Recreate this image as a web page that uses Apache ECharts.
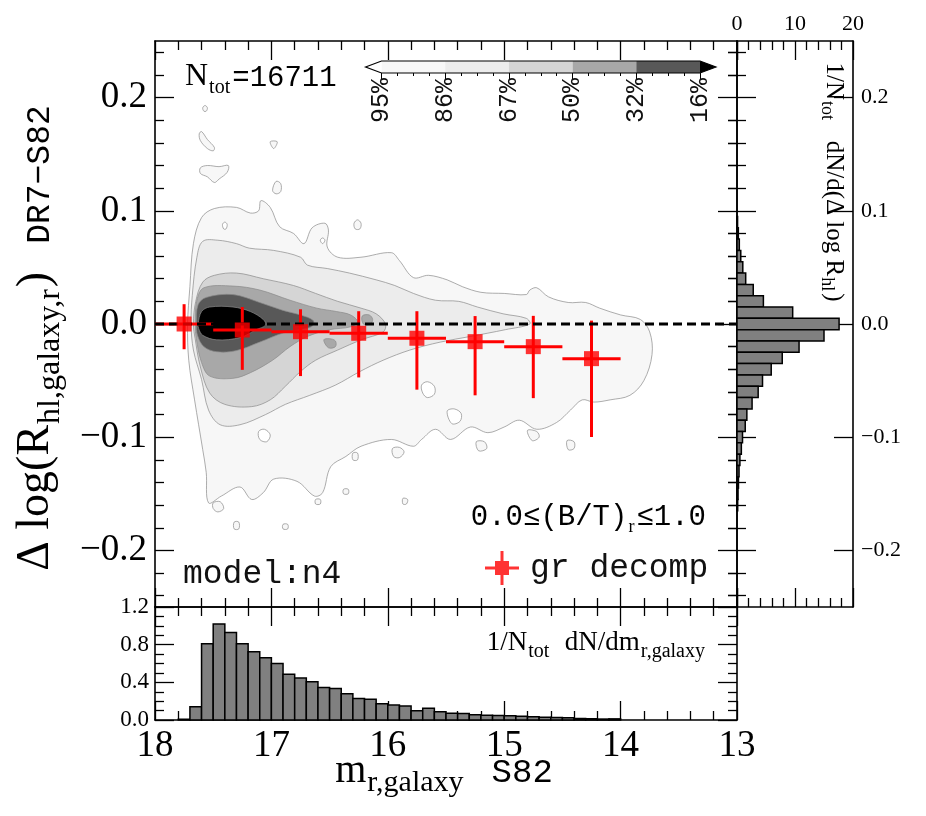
<!DOCTYPE html>
<html>
<head>
<meta charset="utf-8">
<script src="https://cdn.jsdelivr.net/npm/echarts@6/dist/echarts.min.js"></script>
<style>
html, body { margin: 0; padding: 0; background: #fff; }
#chart { width: 926px; height: 816px; }
</style>
</head>
<body>
<div id="chart"></div>
<script>
// ---- values ----
// red points: median of the difference in bins of magnitude
const magBinCenters = [17.75, 17.25, 16.75, 16.25, 15.75, 15.25, 14.75, 14.25]
const medianDelta = [0.000, -0.0053, -0.0068, -0.0082, -0.0126, -0.0156, -0.0200, -0.0306]
const deltaUpper = [0.0175, 0.0150, 0.0130, 0.0113, 0.0113, 0.0070, 0.0072, 0.0030]
const deltaLower = [-0.0223, -0.0405, -0.0460, -0.0472, -0.0580, -0.0630, -0.0655, -0.0998]
const magHalfWidth = 0.25

// bottom histogram 1/N dN/dm
const magBinWidth = 0.1
const magHistCenters = [17.75, 17.65, 17.55, 17.45, 17.35, 17.25, 17.15, 17.05, 16.95, 16.85,
  16.75, 16.65, 16.55, 16.45, 16.35, 16.25, 16.15, 16.05, 15.95, 15.85,
  15.75, 15.65, 15.55, 15.45, 15.35, 15.25, 15.15, 15.05, 14.95, 14.85,
  14.75, 14.65, 14.55, 14.45, 14.35, 14.25, 14.15, 14.05]
const magHistValues = [0.008, 0.14, 0.81, 1.02, 0.93, 0.81, 0.725, 0.66, 0.60, 0.485,
  0.445, 0.405, 0.345, 0.335, 0.28, 0.228, 0.22, 0.172, 0.158, 0.148,
  0.097, 0.124, 0.087, 0.073, 0.07, 0.057, 0.05, 0.047, 0.044, 0.04,
  0.034, 0.03, 0.026, 0.023, 0.017, 0.013, 0.01, 0.012]

// right histogram 1/N dN/d(dlogR)
const deltaBinWidth = 0.01
const deltaHistCenters = [0.09, 0.08, 0.07, 0.06, 0.05, 0.04, 0.03, 0.02, 0.01, 0.00,
  -0.01, -0.02, -0.03, -0.04, -0.05, -0.06, -0.07, -0.08, -0.09, -0.10,
  -0.11, -0.12, -0.13, -0.14, -0.15, -0.16]
const deltaHistValues = [0.1, 0.23, 0.4, 0.65, 1.0, 1.5, 2.8, 4.55, 9.6, 17.6,
  15.0, 10.7, 7.8, 5.9, 4.4, 3.65, 2.6, 1.7, 1.42, 0.95,
  0.75, 0.5, 0.35, 0.25, 0.18, 0.12]

// tick values
const deltaMajor = [-0.2, -0.1, 0.0, 0.1, 0.2]
const deltaMinor = [-0.24, -0.22, -0.18, -0.16, -0.14, -0.12, -0.08, -0.06, -0.04, -0.02,
  0.02, 0.04, 0.06, 0.08, 0.12, 0.14, 0.16, 0.18, 0.22, 0.24]
const cbarLabels = ['95%', '86%', '67%', '50%', '32%', '16%']
const levelColors = ['#f7f7f7', '#ececec', '#d5d5d5', '#a8a8a8', '#585858', '#000000']

// density contours [m_r, dlogR]
const contour95 = [[17.72, 0.000], [17.70, 0.033], [17.67, 0.071], [17.60, 0.094], [17.49, 0.102], [17.30, 0.103],
  [17.18, 0.098], [17.11, 0.100], [17.09, 0.109], [17.01, 0.103], [16.93, 0.086], [16.81, 0.080], [16.72, 0.071],
  [16.65, 0.085], [16.54, 0.089], [16.51, 0.083], [16.52, 0.068], [16.43, 0.059], [16.23, 0.059], [15.97, 0.063],
  [15.90, 0.056], [15.78, 0.041], [15.65, 0.043], [15.49, 0.039], [15.36, 0.033], [15.20, 0.028], [15.00, 0.027],
  [14.81, 0.026], [14.78, 0.030], [14.72, 0.032], [14.62, 0.024], [14.45, 0.019], [14.30, 0.019], [14.18, 0.014],
  [14.00, 0.008], [13.83, 0.004], [13.75, -0.007], [13.73, -0.027], [13.80, -0.050], [13.92, -0.063], [14.09, -0.067],
  [14.23, -0.069], [14.33, -0.067], [14.43, -0.076], [14.55, -0.087], [14.72, -0.093], [14.87, -0.085], [15.00, -0.091],
  [15.14, -0.096], [15.29, -0.091], [15.46, -0.102], [15.59, -0.093], [15.71, -0.102], [15.78, -0.108], [15.97, -0.102],
  [16.23, -0.108], [16.36, -0.117], [16.49, -0.126], [16.56, -0.149], [16.63, -0.152], [16.78, -0.139], [16.98, -0.137],
  [17.07, -0.149], [17.17, -0.155], [17.27, -0.144], [17.43, -0.152], [17.54, -0.158], [17.56, -0.131], [17.59, -0.111],
  [17.66, -0.067], [17.71, -0.032]]
const islands95 = [
  [[17.59, 0.191], [17.57, 0.193], [17.55, 0.191], [17.56, 0.188], [17.58, 0.188]],
  [[17.62, 0.168], [17.60, 0.170], [17.55, 0.163], [17.49, 0.156], [17.50, 0.153], [17.55, 0.155], [17.61, 0.162]],
  [[17.01, 0.161], [16.95, 0.161], [16.98, 0.155]],
  [[17.61, 0.138], [17.55, 0.140], [17.45, 0.139], [17.37, 0.140], [17.38, 0.134], [17.45, 0.128], [17.49, 0.125], [17.55, 0.130], [17.61, 0.133]],
  [[16.99, 0.118], [16.96, 0.126], [16.92, 0.124], [16.92, 0.117], [16.96, 0.115]],
  [[16.29, 0.089], [16.26, 0.092], [16.23, 0.089], [16.24, 0.084], [16.28, 0.084]],
  [[15.96, -0.110], [15.90, -0.109], [15.86, -0.113], [15.90, -0.118], [15.95, -0.117]],
  [[16.30, -0.114], [16.26, -0.114], [16.26, -0.120], [16.30, -0.120]],
  [[16.38, -0.146], [16.34, -0.146], [16.34, -0.150], [16.38, -0.150]],
  [[15.87, -0.154], [15.83, -0.155], [15.84, -0.159], [15.87, -0.159]],
  [[17.32, -0.175], [17.28, -0.175], [17.28, -0.181], [17.32, -0.181]],
  [[16.90, -0.177], [16.86, -0.177], [16.86, -0.181], [16.90, -0.181]],
  [[14.80, -0.094], [14.72, -0.095], [14.70, -0.100], [14.76, -0.103]],
  [[14.46, -0.103], [14.40, -0.104], [14.40, -0.110], [14.45, -0.111]],
  [[15.24, -0.104], [15.17, -0.104], [15.15, -0.110], [15.22, -0.112]],
  [[17.50, -0.158], [17.44, -0.157], [17.41, -0.163], [17.46, -0.166], [17.50, -0.163]],
  [[16.62, -0.155], [16.58, -0.155], [16.58, -0.159], [16.62, -0.159]]
]
const holes95 = [
  [[15.71, -0.054], [15.66, -0.051], [15.60, -0.055], [15.60, -0.062], [15.66, -0.065], [15.70, -0.061]],
  [[15.49, -0.077], [15.43, -0.075], [15.37, -0.079], [15.38, -0.086], [15.45, -0.088]],
  [[17.11, -0.095], [17.06, -0.093], [17.01, -0.098], [17.04, -0.104], [17.10, -0.102]],
  [[17.42, 0.088], [17.40, 0.090], [17.38, 0.088], [17.39, 0.084], [17.41, 0.084]],
  [[16.58, 0.074], [16.56, 0.076], [16.54, 0.074], [16.56, 0.071]]
]
const contour86 = [[17.69, 0.000], [17.68, 0.025], [17.64, 0.059], [17.59, 0.073], [17.46, 0.074], [17.30, 0.071],
  [17.19, 0.067], [16.98, 0.065], [16.75, 0.059], [16.69, 0.052], [16.52, 0.049], [16.33, 0.045], [16.10, 0.039],
  [15.94, 0.034], [15.78, 0.027], [15.59, 0.021], [15.39, 0.020], [15.23, 0.015], [15.01, 0.009], [14.81, 0.005],
  [14.78, 0.000], [14.99, -0.005], [15.29, -0.011], [15.55, -0.016], [15.81, -0.023], [16.04, -0.032], [16.24, -0.042],
  [16.45, -0.054], [16.67, -0.063], [16.88, -0.071], [17.05, -0.080], [17.27, -0.089], [17.44, -0.089], [17.54, -0.076],
  [17.60, -0.049], [17.67, -0.023]]
const contour67 = [[17.67, 0.000], [17.65, 0.020], [17.59, 0.037], [17.49, 0.043], [17.30, 0.045], [17.07, 0.040],
  [16.81, 0.034], [16.62, 0.027], [16.43, 0.020], [16.23, 0.014], [16.10, 0.009], [16.02, 0.000], [16.04, -0.007],
  [16.23, -0.014], [16.43, -0.023], [16.62, -0.032], [16.75, -0.042], [16.88, -0.055], [17.01, -0.067], [17.17, -0.073],
  [17.40, -0.071], [17.53, -0.061], [17.61, -0.038], [17.655, -0.013]]
const contour50 = [[17.655, 0.000], [17.64, 0.021], [17.58, 0.032], [17.33, 0.0335], [17.10, 0.030], [16.84, 0.021],
  [16.61, 0.014], [16.44, 0.011], [16.32, 0.008], [16.26, 0.002], [16.32, -0.0025], [16.50, -0.005], [16.69, -0.011],
  [16.84, -0.020], [16.99, -0.032], [17.18, -0.043], [17.33, -0.048], [17.53, -0.046], [17.60, -0.034], [17.645, -0.013]]
const islands50 = [
  [[16.55, -0.014], [16.50, -0.013], [16.45, -0.015], [16.45, -0.020], [16.51, -0.021]],
  [[16.22, 0.007], [16.16, 0.008], [16.13, 0.004], [16.15, 0.000], [16.21, 0.000]]
]
const contour32 = [[17.645, 0.000], [17.63, 0.017], [17.56, 0.0235], [17.33, 0.026], [17.10, 0.019], [16.90, 0.012],
  [16.75, 0.008], [16.64, 0.003], [16.65, -0.002], [16.75, -0.005], [16.90, -0.008], [17.10, -0.016], [17.30, -0.0235],
  [17.47, -0.0245], [17.58, -0.020], [17.635, -0.010]]
const contour16 = [[17.63, 0.000], [17.60, 0.011], [17.53, 0.015], [17.33, 0.015], [17.18, 0.011], [17.07, 0.004],
  [17.05, -0.001], [17.13, -0.005], [17.27, -0.012], [17.47, -0.014], [17.59, -0.010], [17.625, -0.004]]

// ---- styles ----
const serif = "'Liberation Serif', 'DejaVu Serif', serif"
const mono = "'Liberation Mono', 'DejaVu Sans Mono', monospace"
const ink = '#000'
const axisLineStyle = { color: ink, width: 1.6 }
const tickStyle = { color: ink, width: 1.3 }

function fmtTick(v) {
  const s = Math.abs(v).toFixed(1)
  return v < -1e-9 ? '\u2212' + s : s
}

function frameAxis(o) {
  return Object.assign({
    type: 'value',
    axisLine: { show: true, onZero: false, lineStyle: axisLineStyle },
    axisTick: { show: true, inside: true, length: 19, lineStyle: tickStyle },
    minorTick: { show: false },
    axisLabel: { show: false },
    splitLine: { show: false },
    minorSplitLine: { show: false }
  }, o)
}
function magAxis(grid, pos, label) {
  return frameAxis({
    gridIndex: grid, position: pos, min: 13, max: 18, inverse: true, interval: 1,
    minorTick: { show: true, splitNumber: 5, length: 9, lineStyle: tickStyle },
    axisLabel: label ? { show: true, fontFamily: serif, fontSize: 37, color: ink, margin: 8 } : { show: false }
  })
}
function deltaAxes(grid, pos, label) {
  return [
    frameAxis({
      gridIndex: grid, position: pos, min: -0.25, max: 0.25,
      axisTick: { show: true, inside: true, length: 19, lineStyle: tickStyle, customValues: deltaMajor },
      axisLabel: label ? Object.assign({ show: true, customValues: deltaMajor, formatter: fmtTick, color: ink, fontFamily: serif }, label) : { show: false }
    }),
    frameAxis({
      gridIndex: grid, position: pos, min: -0.25, max: 0.25,
      axisLine: { show: false },
      axisTick: { show: true, inside: true, length: 9, lineStyle: tickStyle, customValues: deltaMinor }
    })
  ]
}
function histYAxis(grid, pos, label) {
  return frameAxis({
    gridIndex: grid, position: pos, min: 0, max: 1.2, interval: 0.4,
    minorTick: { show: true, splitNumber: 4, length: 9, lineStyle: tickStyle },
    axisLabel: label ? { show: true, formatter: v => v.toFixed(1), fontFamily: serif, fontSize: 23, color: ink, margin: 6 } : { show: false }
  })
}
function countAxis(grid, pos, label) {
  return frameAxis({
    gridIndex: grid, position: pos, min: 0, max: 20, interval: 10,
    minorTick: { show: true, splitNumber: 5, length: 9, lineStyle: tickStyle },
    axisLabel: label ? { show: true, fontFamily: serif, fontSize: 22, color: ink, margin: 6 } : { show: false }
  })
}

// rich text with subscripts: token a = main, s = subscript, extras share a's baseline
function rich(mainFamily, mainSize, subSize, extra) {
  const pb = Math.round(0.22 * mainSize - 0.15 * (mainSize - subSize))
  const base = 0.15 * mainSize + pb
  const r = {
    a: { fontFamily: mainFamily, fontSize: mainSize, lineHeight: mainSize, padding: [0, 0, pb, 0], verticalAlign: 'bottom', fill: ink },
    s: { fontFamily: serif, fontSize: subSize, lineHeight: subSize, padding: [0, 2, 0, 1], verticalAlign: 'bottom', fill: ink }
  }
  Object.keys(extra || {}).forEach(k => {
    const [fam, size, padL] = extra[k]
    r[k] = { fontFamily: fam, fontSize: size, lineHeight: size, padding: [0, 0, Math.max(0, Math.round(base - 0.15 * size)), padL || 0], verticalAlign: 'bottom', fill: ink }
  })
  return r
}

// ---- contour shapes, outermost first ----
const contourLayers = [
  { polys: [contour95].concat(islands95), color: levelColors[0] },
  { polys: holes95, color: '#ffffff' },
  { polys: [contour86], color: levelColors[1] },
  { polys: [contour67], color: levelColors[2] },
  { polys: [contour50].concat(islands50), color: levelColors[3] },
  { polys: [contour32], color: levelColors[4] },
  { polys: [contour16], color: levelColors[5] }
]
const contourShapes = []
contourLayers.forEach(l => l.polys.forEach(p => contourShapes.push({ pts: p, color: l.color })))

function renderContour(params, api) {
  const s = contourShapes[api.value(2)]
  return {
    type: 'polygon',
    shape: { points: s.pts.map(p => api.coord(p)), smooth: 0.35 },
    style: { fill: s.color, stroke: '#8a8a8a', lineWidth: 0.7 }
  }
}
function renderErr(params, api) {
  const x = api.value(0), y = api.value(1)
  const lo = api.coord([x, api.value(2)]), hi = api.coord([x, api.value(3)])
  const l = api.coord([x + magHalfWidth, y]), r = api.coord([x - magHalfWidth, y])
  const st = { stroke: '#ff0000', lineWidth: 3 }
  return {
    type: 'group',
    children: [
      { type: 'line', shape: { x1: lo[0], y1: lo[1], x2: hi[0], y2: hi[1] }, style: st },
      { type: 'line', shape: { x1: l[0], y1: l[1], x2: r[0], y2: r[1] }, style: st }
    ]
  }
}
function renderMagHist(params, api) {
  const c = api.value(0), v = api.value(1)
  const a = api.coord([c + magBinWidth / 2, v]), b = api.coord([c - magBinWidth / 2, 0])
  return {
    type: 'rect',
    shape: { x: a[0], y: a[1], width: b[0] - a[0], height: b[1] - a[1] },
    style: { fill: '#808080', stroke: ink, lineWidth: 1.5 }
  }
}
function renderDeltaHist(params, api) {
  const v = api.value(0), c = api.value(1)
  const a = api.coord([0, c + deltaBinWidth / 2]), b = api.coord([v, c - deltaBinWidth / 2])
  return {
    type: 'rect',
    shape: { x: a[0], y: a[1], width: b[0] - a[0], height: b[1] - a[1] },
    style: { fill: '#808080', stroke: ink, lineWidth: 1.5 }
  }
}
const cbarArrow = 0.25
function renderCbar(params, api) {
  const k = api.value(2)
  if (k < 5) {
    const a = api.coord([k, 1]), b = api.coord([k + 1, 0])
    return { type: 'rect', shape: { x: a[0], y: a[1], width: b[0] - a[0], height: b[1] - a[1] }, style: { fill: levelColors[k] } }
  }
  if (k === 5) {
    return { type: 'polygon', shape: { points: [api.coord([0, 1]), api.coord([-cbarArrow, 0.5]), api.coord([0, 0])] }, style: { fill: '#fff' } }
  }
  if (k === 6) {
    return { type: 'polygon', shape: { points: [api.coord([5, 1]), api.coord([5 + cbarArrow, 0.5]), api.coord([5, 0])] }, style: { fill: levelColors[5] } }
  }
  const pts = [[-cbarArrow, 0.5], [0, 1], [5, 1], [5 + cbarArrow, 0.5], [5, 0], [0, 0]].map(p => api.coord(p))
  return { type: 'polygon', shape: { points: pts }, style: { fill: 'none', stroke: ink, lineWidth: 1.2 } }
}

const legendIcon = 'path://M0,15.5H34V18.5H0Z M15.5,0H18.5V34H15.5Z M10,10H24V24H10Z'

const option = {
  animation: false,
  backgroundColor: '#fff',
  grid: [
    { left: 155, top: 41, width: 582, height: 566 },
    { left: 155, top: 607, width: 582, height: 113 },
    { left: 737, top: 41, width: 116, height: 566 },
    { left: 381.5, top: 61, width: 318.5, height: 12 }
  ],
  xAxis: [
    magAxis(0, 'bottom', false),
    magAxis(0, 'top', false),
    magAxis(1, 'bottom', true),
    magAxis(1, 'top', false),
    countAxis(2, 'top', true),
    countAxis(2, 'bottom', false),
    {
      gridIndex: 3, type: 'value', min: 0, max: 5, interval: 1, position: 'bottom',
      axisLine: { show: false },
      axisTick: { show: true, inside: false, length: 6, lineStyle: { color: ink, width: 1 } },
      minorTick: { show: true, splitNumber: 4, length: 3, lineStyle: { color: ink, width: 1 } },
      axisLabel: { show: true, rotate: 90, formatter: v => cbarLabels[Math.round(v)], fontFamily: mono, fontSize: 25, color: '#111', margin: 5 },
      splitLine: { show: false }
    }
  ],
  yAxis: [
    ...deltaAxes(0, 'left', { fontSize: 37, margin: 8 }),
    ...deltaAxes(0, 'right', null),
    ...deltaAxes(2, 'left', null),
    ...deltaAxes(2, 'right', { fontSize: 22, margin: 8 }),
    histYAxis(1, 'left', true),
    histYAxis(1, 'right', false),
    { gridIndex: 3, type: 'value', min: 0, max: 1, show: false }
  ],
  legend: {
    show: true, left: 480, top: 546, itemWidth: 34, itemHeight: 34, selectedMode: false,
    data: [{ name: 'gr decomp', icon: legendIcon }],
    textStyle: { fontFamily: mono, fontSize: 33, color: '#111', padding: [0, 0, 0, 6] }
  },
  graphic: [
    {
      type: 'text', x: 44, y: 338, rotation: Math.PI / 2,
      style: {
        text: '{a|\u0394 log(}{a|R}{s|hl,galaxy,r}{a|)}{t|DR7\u2212S82}',
        rich: rich(serif, 46, 32, { t: [mono, 33, 28] }), align: 'center', verticalAlign: 'middle'
      }
    },
    {
      type: 'text', x: 444, y: 778,
      style: {
        text: '{a|m}{s|r,galaxy}{t|S82}',
        rich: rich(serif, 40, 30, { t: [mono, 34, 26] }), align: 'center', verticalAlign: 'middle'
      }
    },
    {
      type: 'text', x: 185, y: 82,
      style: {
        text: '{a|N}{s|tot}{t|=16711}',
        rich: rich(serif, 32, 20, { t: [mono, 29, 0] }), align: 'left', verticalAlign: 'middle'
      }
    },
    {
      type: 'text', x: 183, y: 574,
      style: { text: 'model:n4', fontFamily: mono, fontSize: 33, fill: '#111', align: 'left', verticalAlign: 'middle' }
    },
    {
      type: 'text', x: 706, y: 522,
      style: {
        text: '{a|0.0\u2264(B/T)}{s|r}{a|\u22641.0}',
        rich: rich(mono, 29, 18), align: 'right', verticalAlign: 'middle'
      }
    },
    {
      type: 'text', x: 707, y: 648,
      style: {
        text: '{a|1/N}{s|tot}{a|  dN/dm}{s|r,galaxy}',
        rich: rich(serif, 27, 20), align: 'right', verticalAlign: 'middle'
      }
    },
    {
      type: 'text', x: 830, y: 182, rotation: -Math.PI / 2,
      style: {
        text: '{a|1/N}{s|tot}{a|   dN/d(\u0394 log R}{s|hl}{a|)}',
        rich: rich(serif, 25, 18), align: 'center', verticalAlign: 'middle'
      }
    }
  ],
  series: [
    {
      type: 'custom', xAxisIndex: 0, yAxisIndex: 0, z: 1, silent: true,
      renderItem: renderContour,
      encode: { x: 0, y: 1 },
      data: contourShapes.map((s, i) => [s.pts[0][0], s.pts[0][1], i])
    },
    {
      type: 'custom', xAxisIndex: 0, yAxisIndex: 0, z: 2, silent: true,
      renderItem: renderErr,
      encode: { x: 0, y: 1 },
      data: magBinCenters.map((m, i) => [m, medianDelta[i], deltaLower[i], deltaUpper[i]])
    },
    {
      type: 'line', xAxisIndex: 0, yAxisIndex: 0, z: 3, silent: true, symbol: 'none',
      lineStyle: { color: ink, width: 3, type: [9, 5] },
      data: [[18, 0], [13, 0]]
    },
    {
      type: 'scatter', name: 'gr decomp', xAxisIndex: 0, yAxisIndex: 0, z: 4,
      symbol: 'rect', symbolSize: 15, itemStyle: { color: '#ff0000' },
      data: magBinCenters.map((m, i) => [m, medianDelta[i]])
    },
    {
      type: 'custom', xAxisIndex: 2, yAxisIndex: 8, silent: true,
      renderItem: renderMagHist,
      encode: { x: 0, y: 1 },
      data: magHistCenters.map((c, i) => [c, magHistValues[i]])
    },
    {
      type: 'custom', xAxisIndex: 4, yAxisIndex: 4, silent: true,
      renderItem: renderDeltaHist,
      encode: { x: 0, y: 1 },
      data: deltaHistCenters.map((c, i) => [deltaHistValues[i], c])
    },
    {
      type: 'custom', xAxisIndex: 6, yAxisIndex: 10, silent: true,
      renderItem: renderCbar,
      encode: { x: 0, y: 1 },
      data: [0, 1, 2, 3, 4, 5, 6, 7].map(k => [2.5, 0.5, k])
    }
  ]
}

const chart = echarts.init(document.getElementById('chart'))
chart.setOption(option)
</script>
</body>
</html>
